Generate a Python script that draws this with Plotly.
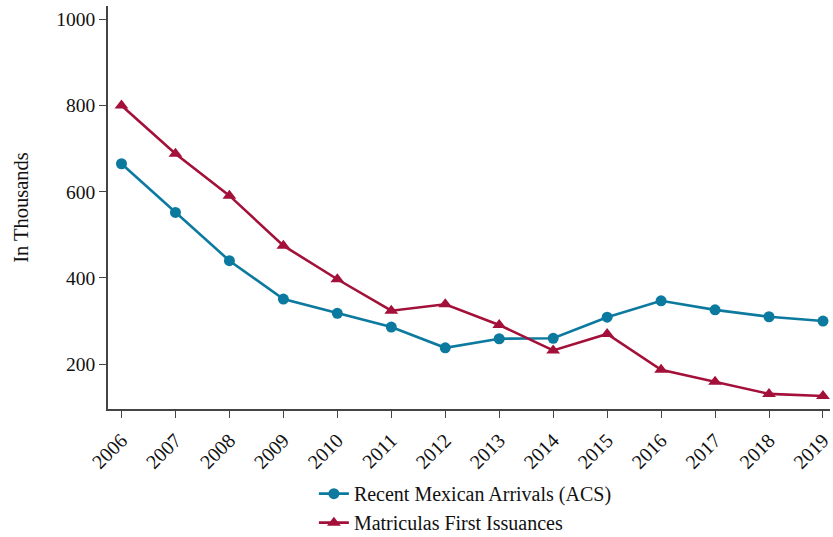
import plotly.graph_objects as go

years = list(range(2006, 2020))
acs_arrivals = [665, 552, 440, 351, 318, 286, 238, 259, 260, 309, 347, 326, 310, 300]
matriculas = [800, 688, 591, 475, 397, 324, 339, 291, 232, 270, 187, 159, 131, 126]
y_ticks = [200, 400, 600, 800, 1000]

blue = "#0C7A9F"
red = "#A3113A"
font_family = "Liberation Serif, Times New Roman, serif"

fig = go.Figure()
fig.add_trace(go.Scatter(
    x=years, y=acs_arrivals, mode="lines+markers",
    name="Recent Mexican Arrivals (ACS)",
    line=dict(color=blue, width=2.6),
    marker=dict(symbol="circle", size=11, color=blue),
))
fig.add_trace(go.Scatter(
    x=years, y=matriculas, mode="lines+markers",
    name="Matriculas First Issuances",
    line=dict(color=red, width=2.6),
    marker=dict(symbol="triangle-up", size=12, color=red),
))

fig.update_layout(
    width=833, height=537,
    margin=dict(l=108, r=3, t=6, b=128, autoexpand=False),
    paper_bgcolor="white", plot_bgcolor="white",
    font=dict(family=font_family, size=19, color="#111111"),
    showlegend=True,
    legend=dict(
        orientation="v", x=0.495, xanchor="center",
        yref="container", y=0.117, yanchor="top",
        font=dict(size=20), itemwidth=30, tracegroupgap=0,
    ),
    xaxis=dict(
        range=[2005.75, 2019.13], automargin=False,
        tickmode="array", tickvals=years, ticktext=[str(y) for y in years],
        tickangle=-45, ticks="outside", ticklen=7, tickwidth=1.2, tickcolor="#444",
        ticklabelstandoff=3,
        showline=True, linecolor="#444", linewidth=1.5,
        showgrid=False, zeroline=False,
        tickfont=dict(size=20),
    ),
    yaxis=dict(
        range=[96, 1031], automargin=False,
        tickmode="array", tickvals=y_ticks, ticktext=[str(v) for v in y_ticks],
        ticks="outside", ticklen=7, tickwidth=1.2, tickcolor="#444",
        showline=True, linecolor="#444", linewidth=1.5,
        showgrid=False, zeroline=False,
        tickfont=dict(size=19.5),
        title=dict(text="In Thousands", font=dict(size=20.5), standoff=22),
    ),
)

fig.write_html("out.html", config={"displayModeBar": False},
               post_script="document.body.style.margin='0px';")
